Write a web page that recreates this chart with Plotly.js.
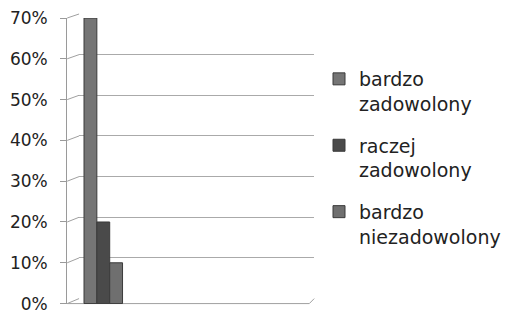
<!DOCTYPE html>
<html>
<head>
<meta charset="utf-8">
<script src="https://cdn.plot.ly/plotly-3.0.1.min.js"></script>
<style>
html,body{margin:0;padding:0;background:#fff;}
#chart{width:506px;height:313px;}
</style>
</head>
<body>
<div id="chart"></div>
<script>
// ---- data ----
const categories = ["ocena"];
const seriesNames = ["bardzo<br>zadowolony", "raczej<br>zadowolony", "bardzo<br>niezadowolony"];
const seriesValues = [[0.70], [0.20], [0.10]];
const seriesColors = ["#757575", "#4a4a4a", "#6f6f6f"];
const tickVals = [0, 0.1, 0.2, 0.3, 0.4, 0.5, 0.6, 0.7];
const tickText = ["0%", "10%", "20%", "30%", "40%", "50%", "60%", "70%"];

// ---- layout geometry (paper fractions) ----
const W = 506, H = 313;
const frontX = 68 / W, backX = 80 / W, rightX = 318 / W, floorFrontRight = 313 / W;
const backDom = [1 - 299 / H, 1 - 14 / H];   // back wall (gridlines)
const frontDom = [1 - 304 / H, 1 - 18 / H];  // front axis (bars + labels)
const yMin = -0.001, yMax = 0.7;
const toPaper = (dom, v) => dom[0] + ((v - yMin) / (yMax - yMin)) * (dom[1] - dom[0]);

const traces = seriesNames.map((n, i) => ({
  type: "bar",
  name: n,
  x: categories,
  y: seriesValues[i],
  xaxis: "x2",
  yaxis: "y2",
  legendgroup: "g" + i,
  marker: {color: seriesColors[i], line: {color: "#3a3a3a", width: 1}},
  hoverinfo: "y"
}));
// invisible trace to carry the back-wall grid subplot
traces.unshift({type: "scatter", x: [0], y: [0], xaxis: "x", yaxis: "y",
  mode: "markers", marker: {opacity: 0}, showlegend: false, hoverinfo: "skip"});

const shapes = [];
// perspective connectors from front ticks to back wall grid
tickVals.forEach(v => {
  shapes.push({type: "line", xref: "paper", yref: "paper",
    x0: frontX, y0: toPaper(frontDom, v), x1: backX, y1: toPaper(backDom, v),
    line: {color: "#a0a0a0", width: 1}, layer: "below"});
});
// floor front edge and right slant
shapes.push({type: "line", xref: "paper", yref: "paper",
  x0: frontX, y0: toPaper(frontDom, 0), x1: floorFrontRight, y1: toPaper(frontDom, 0),
  line: {color: "#a0a0a0", width: 1}, layer: "below"});
shapes.push({type: "line", xref: "paper", yref: "paper",
  x0: floorFrontRight, y0: toPaper(frontDom, 0), x1: rightX, y1: toPaper(backDom, 0),
  line: {color: "#a0a0a0", width: 1}, layer: "below"});

const layout = {
  width: W, height: H,
  margin: {l: 0, r: 0, t: 0, b: 0},
  paper_bgcolor: "#fff", plot_bgcolor: "rgba(0,0,0,0)",
  font: {family: "DejaVu Sans, Verdana, sans-serif", color: "#222"},
  barmode: "group", bargap: 0.2, bargroupgap: 0,
  showlegend: true,
  legend: {
    x: 323 / W, xanchor: "left", y: 1 - 60 / H, yanchor: "top",
    font: {size: 19, color: "#222"}, valign: "top",
    traceorder: "grouped", tracegroupgap: 14, bgcolor: "rgba(0,0,0,0)"
  },
  xaxis: {domain: [backX, rightX], anchor: "y", visible: false, range: [0, 1], fixedrange: true},
  yaxis: {domain: backDom, anchor: "x", range: [yMin, yMax], tickvals: tickVals,
    showgrid: true, gridcolor: "#aaaaaa", gridwidth: 1, showticklabels: false,
    ticks: "", zeroline: false, showline: false, fixedrange: true},
  xaxis2: {domain: [frontX, rightX], anchor: "y2", type: "category",
    range: [-0.749, 4.379], visible: false, fixedrange: true},
  yaxis2: {domain: frontDom, anchor: "x2", range: [yMin, yMax],
    tickvals: tickVals, ticktext: tickText, ticks: "outside", ticklen: 6,
    tickcolor: "#9a9a9a", showline: true, linecolor: "#9a9a9a", linewidth: 1,
    showgrid: false, zeroline: false, ticklabelstandoff: 9,
    ticklabeloverflow: "allow",
    tickfont: {size: 17, color: "#222"}, fixedrange: true},
  shapes: shapes
};

Plotly.newPlot("chart", traces, layout, {displayModeBar: false, staticPlot: true});
</script>
</body>
</html>
